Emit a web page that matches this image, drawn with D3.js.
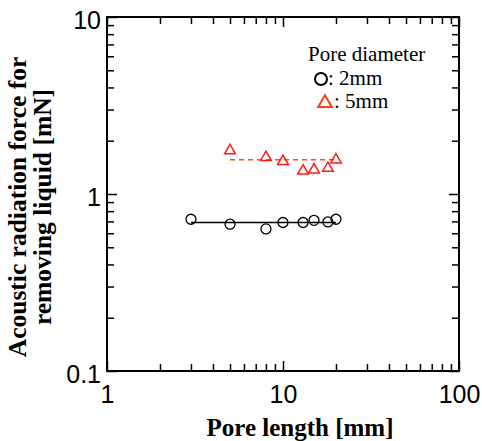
<!DOCTYPE html>
<html>
<head>
<meta charset="utf-8">
<script src="https://cdn.jsdelivr.net/npm/d3@7"></script>
<style>
    body { margin: 0; background: #fff; }
    svg { display: block; }
</style>
</head>
<body>
<svg id="chart"></svg>
<script>
// pore length [mm] and force [mN]
const len2mm = [3, 5, 8, 10, 13, 15, 18, 20];
const force2mm = [0.72, 0.675, 0.635, 0.69, 0.69, 0.71, 0.695, 0.72];
const len5mm = [5, 8, 10, 13, 15, 18, 20];
const force5mm = [1.76, 1.61, 1.53, 1.35, 1.37, 1.40, 1.56];
const fit2mm = [[3, 0.69], [20, 0.69]];
const fit5mm = [[5, 1.56], [20, 1.56]];
const xTickLabels = [1, 10, 100];
const yTickLabels = [0.1, 1, 10];

const width = 482, height = 441;
const margin = { top: 17, right: 23, bottom: 70, left: 107 };
const svg = d3.select("#chart").attr("width", width).attr("height", height);

const x = d3.scaleLog().domain([1, 100]).range([margin.left, width - margin.right]);
const y = d3.scaleLog().domain([0.1, 10]).range([height - margin.bottom, margin.top]);

const minorX = d3.range(0, 2).flatMap(e => d3.range(2, 10).map(m => m * Math.pow(10, e)));
const minorY = d3.range(-1, 1).flatMap(e => d3.range(2, 10).map(m => m * Math.pow(10, e)));

const axisFont = "Liberation Sans, Arial, sans-serif";
const serif = "Liberation Serif, Times New Roman, serif";

// inward ticks on all four sides
const drawAxis = (axis, tx, ty) => {
    const g = svg.append("g").attr("transform", `translate(${tx},${ty})`).call(axis);
    g.select(".domain").remove();
    g.selectAll("line").attr("stroke", "#000").attr("stroke-width", 1.5);
    return g;
};

const bottom = drawAxis(d3.axisBottom(x).tickValues(xTickLabels).tickSize(-10).tickPadding(14)
    .tickFormat(d3.format("~g")), 0, y.range()[0]);
bottom.selectAll("text").attr("font-family", axisFont).attr("font-size", 25).attr("fill", "#000");
drawAxis(d3.axisBottom(x).tickValues(minorX).tickSize(-7).tickFormat(""), 0, y.range()[0]);
drawAxis(d3.axisTop(x).tickValues(xTickLabels).tickSize(-10).tickFormat(""), 0, margin.top);
drawAxis(d3.axisTop(x).tickValues(minorX).tickSize(-7).tickFormat(""), 0, margin.top);

const left = drawAxis(d3.axisLeft(y).tickValues(yTickLabels).tickSize(-10).tickPadding(6)
    .tickFormat(d3.format("~g")), margin.left, 0);
left.selectAll("text").attr("font-family", axisFont).attr("font-size", 25).attr("fill", "#000")
    .attr("dy", "0.45em");
drawAxis(d3.axisLeft(y).tickValues(minorY).tickSize(-7).tickFormat(""), margin.left, 0);
drawAxis(d3.axisRight(y).tickValues(yTickLabels).tickSize(-10).tickFormat(""), x.range()[1], 0);
drawAxis(d3.axisRight(y).tickValues(minorY).tickSize(-7).tickFormat(""), x.range()[1], 0);

// frame
svg.append("rect")
    .attr("x", margin.left).attr("y", margin.top)
    .attr("width", x.range()[1] - margin.left)
    .attr("height", y.range()[0] - margin.top)
    .attr("fill", "none").attr("stroke", "#000").attr("stroke-width", 2);

const line = d3.line().x(d => x(d[0])).y(d => y(d[1]));

svg.append("path").datum(fit2mm).attr("d", line)
    .attr("fill", "none").attr("stroke", "#000").attr("stroke-width", 1.5);
svg.append("path").datum(fit5mm).attr("d", line)
    .attr("fill", "none").attr("stroke", "#ff4a1c").attr("stroke-width", 1.5)
    .attr("stroke-dasharray", "5,4");

svg.append("g").selectAll("circle")
    .data(len2mm.map((l, i) => [l, force2mm[i]]))
    .join("circle")
    .attr("cx", d => x(d[0])).attr("cy", d => y(d[1])).attr("r", 5)
    .attr("fill", "none").attr("stroke", "#000").attr("stroke-width", 1.3);

const tri = d3.symbol().type(d3.symbolTriangle).size(50);
svg.append("g").selectAll("path")
    .data(len5mm.map((l, i) => [l, force5mm[i]]))
    .join("path")
    .attr("d", tri)
    .attr("transform", d => `translate(${x(d[0])},${y(d[1])})`)
    .attr("fill", "none").attr("stroke", "#ff1a1a").attr("stroke-width", 1.5);

// legend
const lg = svg.append("g").attr("font-family", serif).attr("font-size", 21).attr("fill", "#000");
lg.append("text").attr("x", 308).attr("y", 61).text("Pore diameter");
lg.append("circle").attr("cx", 321).attr("cy", 79).attr("r", 6)
    .attr("fill", "none").attr("stroke", "#000").attr("stroke-width", 2);
lg.append("text").attr("x", 328).attr("y", 85).text(": 2mm");
lg.append("path").attr("d", d3.symbol().type(d3.symbolTriangle).size(80))
    .attr("transform", "translate(325,103)")
    .attr("fill", "none").attr("stroke", "#ff3c14").attr("stroke-width", 2);
lg.append("text").attr("x", 334).attr("y", 108).text(": 5mm");

// axis titles
svg.append("text")
    .attr("x", 300).attr("y", 436)
    .attr("text-anchor", "middle")
    .attr("font-family", serif).attr("font-weight", "bold").attr("font-size", 25)
    .text("Pore length [mm]");

const yTitle = svg.append("text")
    .attr("transform", "translate(0,207) rotate(-90)")
    .attr("text-anchor", "middle")
    .attr("font-family", serif).attr("font-weight", "bold").attr("font-size", 25.5);
yTitle.append("tspan").attr("x", 0).attr("y", 26).text("Acoustic radiation force for");
yTitle.append("tspan").attr("x", 0).attr("y", 51).text("removing liquid [mN]");
</script>
</body>
</html>
